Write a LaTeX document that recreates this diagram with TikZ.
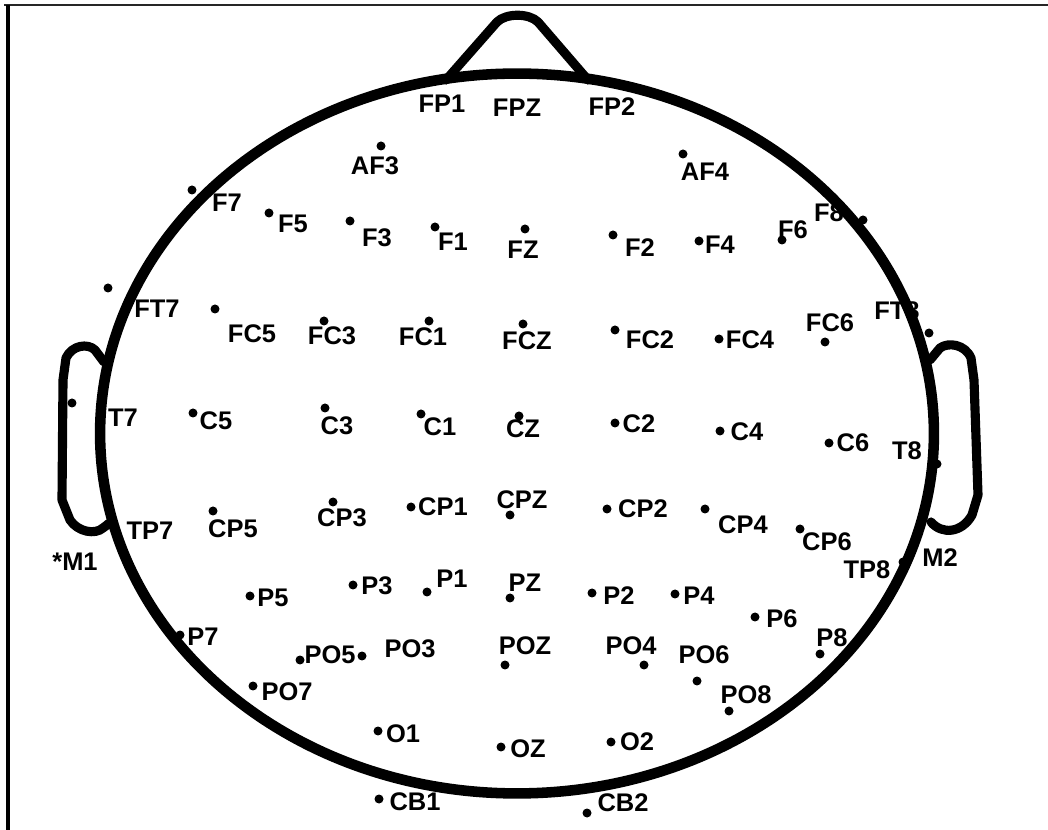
\documentclass[tikz,border=0pt]{standalone}
\usepackage{fontspec}
\setmainfont{Liberation Sans}
\usepackage{tikz}
\usetikzlibrary{positioning}

\tikzset{
  dot/.style={circle,fill,inner sep=0pt,minimum size=0.18cm},
  lab/.style={inner sep=0pt,font=\fontsize{14.5}{16}\selectfont\bfseries},
  headline/.style={line width=6pt},
  earline/.style={line width=5.2pt,line join=round,line cap=round},
  frameline/.style={line width=1.3pt}
}

\begin{document}
\begin{tikzpicture}[x=0.02cm,y=-0.02cm]
\useasboundingbox (0,0) rectangle (1048,830);
\draw[frameline,black!85] (4,5) -- (1048,5);
\draw[frameline,line width=1.8pt] (8,5) -- (8,830);

% head, nose, ears
\draw[headline] (517,433.5) ellipse [x radius=8.34cm, y radius=7.2cm];
\draw[earline] (446,80) -- (497,22) .. controls (506,13) and (529,13) .. (538,22) -- (588,80);
\draw[earline] (104,362) -- (95,350) .. controls (88,343) and (72,345) .. (66,358) -- (63,380) -- (62,500) -- (70,520) .. controls (78,532) and (95,535) .. (103,528) -- (111,522);
\draw[earline] (930,360) -- (940,348) .. controls (948,342) and (965,344) .. (971,358) -- (974,380) -- (978,495) -- (972,515) .. controls (962,533) and (942,535) .. (931,522);

\node[lab] (FP1l) at (442,104) {FP1};
\node[lab] (FPZl) at (517,108) {FPZ};
\node[lab] (FP2l) at (612,107) {FP2};

\node[dot] (AF3) at (381,146) {}; \node[lab] (AF3l) at (375,166) {AF3};
\node[dot] (AF4) at (683,154) {}; \node[lab] (AF4l) at (705,172) {AF4};

\node[dot] (F7) at (192,190) {}; \node[lab] (F7l) at (227,203) {F7};
\node[dot] (F5) at (269,213) {}; \node[lab] (F5l) at (293,224) {F5};
\node[dot] (F3) at (350,221) {}; \node[lab] (F3l) at (377,238) {F3};
\node[dot] (F1) at (435,227) {}; \node[lab] (F1l) at (453,242) {F1};
\node[dot] (FZ) at (525,229) {}; \node[lab] (FZl) at (523,250) {FZ};
\node[dot] (F2) at (613,235) {}; \node[lab] (F2l) at (640,248) {F2};
\node[dot] (F4) at (699,241) {}; \node[lab] (F4l) at (720,245) {F4};
\node[dot] (F6) at (782,240) {}; \node[lab] (F6l) at (793,230) {F6};
\node[dot] (F8) at (863,220) {}; \node[lab] (F8l) at (829,213) {F8};

\node[dot] (FT7) at (108,288) {}; \node[lab] (FT7l) at (157,309) {FT7};
\node[dot] (FC5) at (215,309) {}; \node[lab] (FC5l) at (252,334) {FC5};
\node[dot] (FC3) at (324,321) {}; \node[lab] (FC3l) at (332,336) {FC3};
\node[dot] (FC1) at (429,321) {}; \node[lab] (FC1l) at (423,337) {FC1};
\node[dot] (FCZ) at (523,324) {}; \node[lab] (FCZl) at (527,341) {FCZ};
\node[dot] (FC2) at (615,330) {}; \node[lab] (FC2l) at (650,340) {FC2};
\node[dot] (FC4) at (719,339) {}; \node[lab] (FC4l) at (750,340) {FC4};
\node[dot] (FC6) at (825,342) {}; \node[lab] (FC6l) at (830,323) {FC6};
\node[dot] (FT8) at (929,333) {}; \node[lab] (FT8l) at (897,311) {FT8};

\node[dot] (T7) at (72,403) {}; \node[lab] (T7l) at (123,418) {T7};
\node[dot] (C5) at (193,413) {}; \node[lab] (C5l) at (216,421) {C5};
\node[dot] (C3) at (325,408) {}; \node[lab] (C3l) at (337,426) {C3};
\node[dot] (C1) at (421,414) {}; \node[lab] (C1l) at (440,427) {C1};
\node[dot] (CZ) at (519,416) {}; \node[lab] (CZl) at (523,429) {CZ};
\node[dot] (C2) at (615,423) {}; \node[lab] (C2l) at (639,424) {C2};
\node[dot] (C4) at (720,431) {}; \node[lab] (C4l) at (747,432) {C4};
\node[dot] (C6) at (829,443) {}; \node[lab] (C6l) at (853,443) {C6};
\node[dot] (T8) at (937,464) {}; \node[lab] (T8l) at (907,451) {T8};

\node[dot] (TP7) at (108,524) {}; \node[lab] (TP7l) at (150,531) {TP7};
\node[dot] (CP5) at (213,511) {}; \node[lab] (CP5l) at (233,529) {CP5};
\node[dot] (CP3) at (333,502) {}; \node[lab] (CP3l) at (342,518) {CP3};
\node[dot] (CP1) at (411,507) {}; \node[lab] (CP1l) at (443,507) {CP1};
\node[dot] (CPZ) at (510,515) {}; \node[lab] (CPZl) at (522,500) {CPZ};
\node[dot] (CP2) at (607,509) {}; \node[lab] (CP2l) at (643,509) {CP2};
\node[dot] (CP4) at (705,509) {}; \node[lab] (CP4l) at (743,525) {CP4};
\node[dot] (CP6) at (800,529) {}; \node[lab] (CP6l) at (827,542) {CP6};
\node[dot] (TP8) at (903,562) {}; \node[lab] (TP8l) at (867,570) {TP8};
\node[lab] (M1l) at (75,562) {*M1};
\node[lab] (M2l) at (940,558) {M2};

\node[dot] (P5) at (250,596) {}; \node[lab] (P5l) at (273,598) {P5};
\node[dot] (P3) at (353,585) {}; \node[lab] (P3l) at (377,586) {P3};
\node[dot] (P1) at (427,592) {}; \node[lab] (P1l) at (452,579) {P1};
\node[dot] (PZ) at (510,598) {}; \node[lab] (PZl) at (525,583) {PZ};
\node[dot] (P2) at (592,593) {}; \node[lab] (P2l) at (619,596) {P2};
\node[dot] (P4) at (675,594) {}; \node[lab] (P4l) at (699,596) {P4};
\node[dot] (P6) at (755,617) {}; \node[lab] (P6l) at (782,619) {P6};
\node[dot] (P7) at (180,635) {}; \node[lab] (P7l) at (203,637) {P7};
\node[dot] (P8) at (820,654) {}; \node[lab] (P8l) at (832,638) {P8};

\node[dot] (PO5) at (300,660) {}; \node[lab] (PO5l) at (330,655) {PO5};
\node[dot] (PO3) at (362,656) {}; \node[lab] (PO3l) at (410,649) {PO3};
\node[dot] (POZ) at (505,665) {}; \node[lab] (POZl) at (525,646) {POZ};
\node[dot] (PO4) at (644,665) {}; \node[lab] (PO4l) at (631,646) {PO4};
\node[dot] (PO6) at (697,681) {}; \node[lab] (PO6l) at (704,655) {PO6};
\node[dot] (PO7) at (253,686) {}; \node[lab] (PO7l) at (287,692) {PO7};
\node[dot] (PO8) at (729,711) {}; \node[lab] (PO8l) at (746,695) {PO8};

\node[dot] (O1) at (378,731) {}; \node[lab] (O1l) at (403,734) {O1};
\node[dot] (OZ) at (501,747) {}; \node[lab] (OZl) at (528,749) {OZ};
\node[dot] (O2) at (611,742) {}; \node[lab] (O2l) at (637,742) {O2};
\node[dot] (CB1) at (379,799) {}; \node[lab] (CB1l) at (415,802) {CB1};
\node[dot] (CB2) at (587,813) {}; \node[lab] (CB2l) at (623,803) {CB2};
\end{tikzpicture}
\end{document}
